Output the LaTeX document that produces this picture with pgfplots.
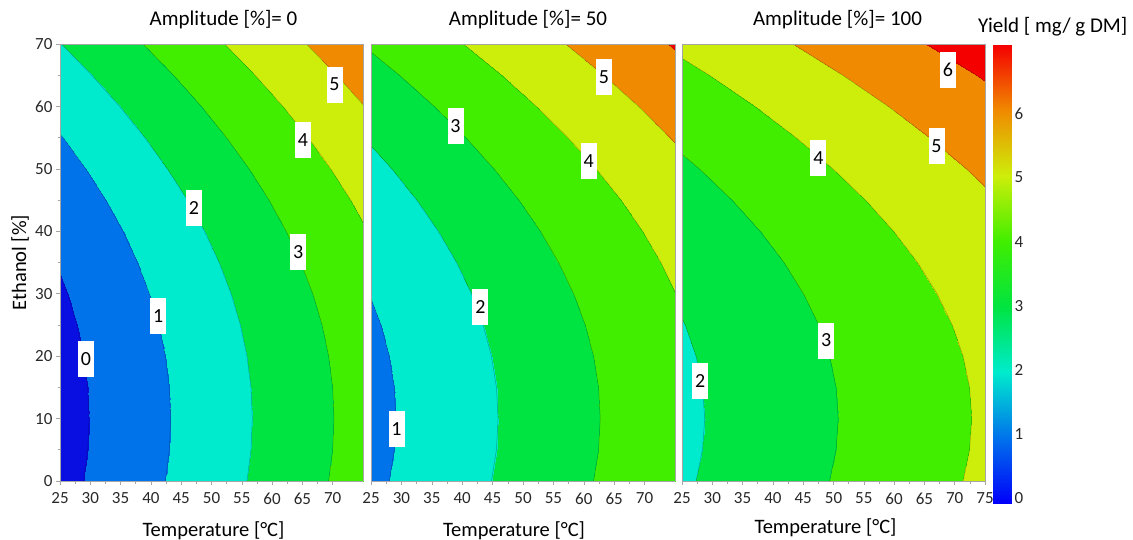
\documentclass[border=0pt]{standalone}
\usepackage{fontspec}
\setmainfont{Carlito}
\usepackage{pgfplots}
\pgfplotsset{compat=1.18}

\definecolor{framegray}{RGB}{165,165,165}
\definecolor{ticktext}{RGB}{40,40,40}

\tikzset{lab/.style={fill=white, inner sep=0pt, minimum width=16pt, minimum height=36pt, font=\fontsize{20}{20}\selectfont}}

\pgfplotsset{
  % one colour per band: <0, 0-1, 1-2, ..., 6-7
  colormap={bands}{rgb255=(10,15,225) rgb255=(0,115,235) rgb255=(0,235,205) rgb255=(0,228,65)
    rgb255=(65,238,0) rgb255=(205,238,10) rgb255=(240,138,0) rgb255=(245,0,0)},
  colormap={yield}{rgb255=(0,0,250) rgb255=(0,115,235) rgb255=(0,235,205) rgb255=(0,228,65)
    rgb255=(65,238,0) rgb255=(205,238,10) rgb255=(240,138,0) rgb255=(245,0,0)},
  lvl/.style={draw=black, opacity=0.3, line width=0.5pt, no marks},
  panel/.style={
    scale only axis, width=303pt, height=437pt, view={0}{90},
    xmin=25, xmax=75, ymin=0, ymax=70,
    minor x tick num=1,
    tick align=outside, tick pos=left,
    major tick length=4pt, minor tick length=2.5pt,
    axis line style={framegray, line width=0.8pt},
    tick style={framegray, line width=0.6pt},
    tick label style={font=\fontsize{17}{17}\selectfont, text=ticktext},
    xticklabel style={yshift=-4pt},
    /pgf/number format/assume math mode=true,
    title style={font=\fontsize{21}{21}\selectfont, at={(0.5,1)}, anchor=base, yshift=13pt},
    xlabel={Temperature [°C]},
    every axis x label/.style={at={(axis description cs:0.5,0)}, anchor=base, yshift=-55pt,
      font=\fontsize{20.5}{20.5}\selectfont},
    colormap name=bands, colormap access=piecewise constant,
    point meta min=-1, point meta max=7,
    axis on top,
  },
}

\begin{document}
\begin{tikzpicture}
\useasboundingbox (0,0) rectangle (1133pt,539pt);

% ---------- Amplitude 0 ----------
\begin{axis}[panel, at={(60pt,58pt)}, anchor=south west,
  title={Amplitude [\%]= 0}, title style={xshift=12pt},
  xtick={25,30,...,70}, ytick={0,10,...,70}, minor y tick num=1,
  x label style={xshift=2pt},
  ylabel={Ethanol [\%]},
  every axis y label/.style={at={(axis description cs:-0.132,0.5)}, rotate=90, anchor=center,
    font=\fontsize{20.5}{20.5}\selectfont}]
\addplot3[surf, shader=interp, point meta=z] coordinates {
(25,0,-0.29) (35,0,0.45) (45,0,1.19) (55,0,1.94) (65,0,2.68) (75,0,3.42)

(25,5,-0.34) (35,5,0.40) (45,5,1.14) (55,5,1.89) (65,5,2.63) (75,5,3.37)

(25,10,-0.36) (35,10,0.39) (45,10,1.13) (55,10,1.87) (65,10,2.61) (75,10,3.36)

(25,15,-0.34) (35,15,0.40) (45,15,1.14) (55,15,1.89) (65,15,2.63) (75,15,3.37)

(25,20,-0.29) (35,20,0.45) (45,20,1.19) (55,20,1.94) (65,20,2.68) (75,20,3.42)

(25,25,-0.21) (35,25,0.53) (45,25,1.27) (55,25,2.02) (65,25,2.76) (75,25,3.50)

(25,30,-0.10) (35,30,0.65) (45,30,1.39) (55,30,2.13) (65,30,2.87) (75,30,3.62)

(25,35,0.05) (35,35,0.79) (45,35,1.53) (55,35,2.28) (65,35,3.02) (75,35,3.76)

(25,40,0.23) (35,40,0.97) (45,40,1.71) (55,40,2.46) (65,40,3.20) (75,40,3.94)

(25,45,0.44) (35,45,1.18) (45,45,1.92) (55,45,2.67) (65,45,3.41) (75,45,4.15)

(25,50,0.68) (35,50,1.43) (45,50,2.17) (55,50,2.91) (65,50,3.65) (75,50,4.40)

(25,55,0.96) (35,55,1.70) (45,55,2.44) (55,55,3.19) (65,55,3.93) (75,55,4.67)

(25,60,1.27) (35,60,2.01) (45,60,2.75) (55,60,3.50) (65,60,4.24) (75,60,4.98)

(25,65,1.61) (35,65,2.35) (45,65,3.09) (55,65,3.84) (65,65,4.58) (75,65,5.32)

(25,70,1.98) (35,70,2.73) (45,70,3.47) (55,70,4.21) (65,70,4.95) (75,70,5.70)
};
\addplot3[lvl] coordinates {(28.92,0,0) (29.58,5,0) (29.8,10,0) (29.58,15,0) (28.92,20,0) (27.83,25,0) (26.30,30,0) (24.33,35,0)};
\addplot3[lvl] coordinates {(42.39,0,0) (43.05,5,0) (43.27,10,0) (43.05,15,0) (42.39,20,0) (41.30,25,0) (39.77,30,0) (37.80,35,0) (35.39,40,0) (32.55,45,0) (29.26,50,0) (25.54,55,0) (21.38,60,0)};
\addplot3[lvl] coordinates {(55.86,0,0) (56.52,5,0) (56.74,10,0) (56.52,15,0) (55.86,20,0) (54.77,25,0) (53.24,30,0) (51.27,35,0) (48.86,40,0) (46.02,45,0) (42.73,50,0) (39.01,55,0) (34.85,60,0) (30.25,65,0) (25.22,70,0)};
\addplot3[lvl] coordinates {(69.33,0,0) (69.99,5,0) (70.21,10,0) (69.99,15,0) (69.33,20,0) (68.24,25,0) (66.71,30,0) (64.74,35,0) (62.33,40,0) (59.49,45,0) (56.20,50,0) (52.48,55,0) (48.32,60,0) (43.72,65,0) (38.69,70,0)};
\addplot3[lvl] coordinates {(78.21,35,0) (75.80,40,0) (72.96,45,0) (69.67,50,0) (65.95,55,0) (61.79,60,0) (57.19,65,0) (52.16,70,0)};
\addplot3[lvl] coordinates {(79.42,55,0) (75.26,60,0) (70.66,65,0) (65.63,70,0)};
\node[lab] at (axis cs:29.3,19.5,0) {0};
\node[lab] at (axis cs:41.2,26.5,0) {1};
\node[lab] at (axis cs:47.1,43.7,0) {2};
\node[lab] at (axis cs:64.3,36.7,0) {3};
\node[lab] at (axis cs:65.1,54.6,0) {4};
\node[lab] at (axis cs:70.3,63.5,0) {5};
\end{axis}

% ---------- Amplitude 50 ----------
\begin{axis}[panel, at={(371pt,58pt)}, anchor=south west, width=304pt,
  title={Amplitude [\%]= 50}, title style={xshift=5pt},
  xtick={25,30,...,70}, ytick=\empty,
  x label style={xshift=-9pt}]
\addplot3[surf, shader=interp, point meta=z] coordinates {
(25,0,0.82) (35,0,1.42) (45,0,2.01) (55,0,2.61) (65,0,3.20) (75,0,3.80)

(25,5,0.77) (35,5,1.37) (45,5,1.96) (55,5,2.56) (65,5,3.15) (75,5,3.75)

(25,10,0.76) (35,10,1.35) (45,10,1.95) (55,10,2.54) (65,10,3.14) (75,10,3.73)

(25,15,0.77) (35,15,1.37) (45,15,1.96) (55,15,2.56) (65,15,3.15) (75,15,3.75)

(25,20,0.82) (35,20,1.42) (45,20,2.01) (55,20,2.61) (65,20,3.20) (75,20,3.80)

(25,25,0.90) (35,25,1.50) (45,25,2.09) (55,25,2.69) (65,25,3.28) (75,25,3.88)

(25,30,1.02) (35,30,1.61) (45,30,2.21) (55,30,2.80) (65,30,3.40) (75,30,3.99)

(25,35,1.16) (35,35,1.76) (45,35,2.35) (55,35,2.95) (65,35,3.54) (75,35,4.14)

(25,40,1.34) (35,40,1.94) (45,40,2.53) (55,40,3.13) (65,40,3.72) (75,40,4.32)

(25,45,1.55) (35,45,2.15) (45,45,2.74) (55,45,3.34) (65,45,3.93) (75,45,4.53)

(25,50,1.80) (35,50,2.39) (45,50,2.99) (55,50,3.58) (65,50,4.18) (75,50,4.77)

(25,55,2.07) (35,55,2.67) (45,55,3.26) (55,55,3.86) (65,55,4.45) (75,55,5.05)

(25,60,2.38) (35,60,2.98) (45,60,3.57) (55,60,4.17) (65,60,4.76) (75,60,5.36)

(25,65,2.72) (35,65,3.32) (45,65,3.91) (55,65,4.51) (65,65,5.10) (75,65,5.70)

(25,70,3.10) (35,70,3.69) (45,70,4.29) (55,70,4.88) (65,70,5.48) (75,70,6.07)
};
\addplot3[lvl] coordinates {(28.01,0,0) (28.83,5,0) (29.1,10,0) (28.83,15,0) (28.01,20,0) (26.64,25,0) (24.73,30,0)};
\addplot3[lvl] coordinates {(44.81,0,0) (45.63,5,0) (45.9,10,0) (45.63,15,0) (44.81,20,0) (43.44,25,0) (41.53,30,0) (39.08,35,0) (36.07,40,0) (32.52,45,0) (28.43,50,0) (23.79,55,0)};
\addplot3[lvl] coordinates {(61.61,0,0) (62.43,5,0) (62.7,10,0) (62.43,15,0) (61.61,20,0) (60.24,25,0) (58.33,30,0) (55.88,35,0) (52.87,40,0) (49.32,45,0) (45.23,50,0) (40.59,55,0) (35.40,60,0) (29.67,65,0) (23.39,70,0)};
\addplot3[lvl] coordinates {(77.04,25,0) (75.13,30,0) (72.68,35,0) (69.67,40,0) (66.12,45,0) (62.03,50,0) (57.39,55,0) (52.20,60,0) (46.47,65,0) (40.19,70,0)};
\addplot3[lvl] coordinates {(78.83,50,0) (74.19,55,0) (69.0,60,0) (63.27,65,0) (56.99,70,0)};
\addplot3[lvl] coordinates {(80.07,65,0) (73.79,70,0)};
\node[lab] at (axis cs:29.2,8.3,0) {1};
\node[lab] at (axis cs:43.0,27.8,0) {2};
\node[lab] at (axis cs:38.9,56.9,0) {3};
\node[lab] at (axis cs:60.8,51.3,0) {4};
\node[lab] at (axis cs:63.3,64.7,0) {5};
\end{axis}

% ---------- Amplitude 100 ----------
\begin{axis}[panel, at={(682pt,58pt)}, anchor=south west,
  title={Amplitude [\%]= 100}, title style={xshift=4pt},
  xtick={25,30,...,75}, ytick=\empty,
  x label style={xshift=-8pt, yshift=3pt}]
\addplot3[surf, shader=interp, point meta=z] coordinates {
(25,0,1.90) (35,0,2.35) (45,0,2.80) (55,0,3.26) (65,0,3.71) (75,0,4.17)

(25,5,1.85) (35,5,2.30) (45,5,2.75) (55,5,3.21) (65,5,3.66) (75,5,4.12)

(25,10,1.83) (35,10,2.28) (45,10,2.74) (55,10,3.19) (65,10,3.65) (75,10,4.10)

(25,15,1.85) (35,15,2.30) (45,15,2.75) (55,15,3.21) (65,15,3.66) (75,15,4.12)

(25,20,1.90) (35,20,2.35) (45,20,2.80) (55,20,3.26) (65,20,3.71) (75,20,4.17)

(25,25,1.98) (35,25,2.43) (45,25,2.88) (55,25,3.34) (65,25,3.79) (75,25,4.25)

(25,30,2.09) (35,30,2.54) (45,30,3.00) (55,30,3.45) (65,30,3.91) (75,30,4.36)

(25,35,2.24) (35,35,2.69) (45,35,3.14) (55,35,3.60) (65,35,4.05) (75,35,4.51)

(25,40,2.42) (35,40,2.87) (45,40,3.32) (55,40,3.78) (65,40,4.23) (75,40,4.69)

(25,45,2.63) (35,45,3.08) (45,45,3.53) (55,45,3.99) (65,45,4.44) (75,45,4.90)

(25,50,2.87) (35,50,3.32) (45,50,3.78) (55,50,4.23) (65,50,4.69) (75,50,5.14)

(25,55,3.15) (35,55,3.60) (45,55,4.05) (55,55,4.51) (65,55,4.96) (75,55,5.42)

(25,60,3.46) (35,60,3.91) (45,60,4.36) (55,60,4.82) (65,60,5.27) (75,60,5.73)

(25,65,3.80) (35,65,4.25) (45,65,4.70) (55,65,5.16) (65,65,5.61) (75,65,6.07)

(25,70,4.17) (35,70,4.62) (45,70,5.08) (55,70,5.53) (65,70,5.99) (75,70,6.44)
};
\addplot3[lvl] coordinates {(27.32,0,0) (28.39,5,0) (28.75,10,0) (28.39,15,0) (27.32,20,0) (25.53,25,0) (23.02,30,0)};
\addplot3[lvl] coordinates {(49.35,0,0) (50.42,5,0) (50.78,10,0) (50.42,15,0) (49.35,20,0) (47.56,25,0) (45.05,30,0) (41.83,35,0) (37.89,40,0) (33.24,45,0) (27.87,50,0) (21.78,55,0)};
\addplot3[lvl] coordinates {(71.38,0,0) (72.45,5,0) (72.81,10,0) (72.45,15,0) (71.38,20,0) (69.59,25,0) (67.08,30,0) (63.86,35,0) (59.92,40,0) (55.27,45,0) (49.90,50,0) (43.81,55,0) (37.01,60,0) (29.49,65,0) (21.26,70,0)};
\addplot3[lvl] coordinates {(77.30,45,0) (71.93,50,0) (65.84,55,0) (59.04,60,0) (51.52,65,0) (43.29,70,0)};
\addplot3[lvl] coordinates {(81.07,60,0) (73.55,65,0) (65.32,70,0)};
\node[lab] at (axis cs:28.0,16.0,0) {2};
\node[lab] at (axis cs:48.8,22.5,0) {3};
\node[lab] at (axis cs:47.5,51.7,0) {4};
\node[lab] at (axis cs:67.0,53.7,0) {5};
\node[lab] at (axis cs:68.9,65.9,0) {6};
\end{axis}

% ---------- colour bar ----------
\begin{axis}[at={(993pt,36pt)}, anchor=south west, scale only axis,
  width=18pt, height=458pt, view={0}{90},
  xmin=0, xmax=1, ymin=-0.08, ymax=7.07,
  hide x axis, axis line style={draw=none},
  ytick={0,1,...,6}, tick pos=right, major tick length=0pt,
  tick label style={font=\fontsize{17}{17}\selectfont, text=ticktext},
  /pgf/number format/assume math mode=true,
  colormap name=yield, point meta min=0, point meta max=7]
\addplot3[surf, shader=interp, point meta=z] coordinates {
(0,-0.08,0) (1,-0.08,0)

(0,7.07,7) (1,7.07,7)
};
\end{axis}

\node[anchor=base west, inner sep=0pt, font=\fontsize{21}{21}\selectfont] at (978pt,506pt) {Yield [ mg/ g DM]};
\end{tikzpicture}
\end{document}
